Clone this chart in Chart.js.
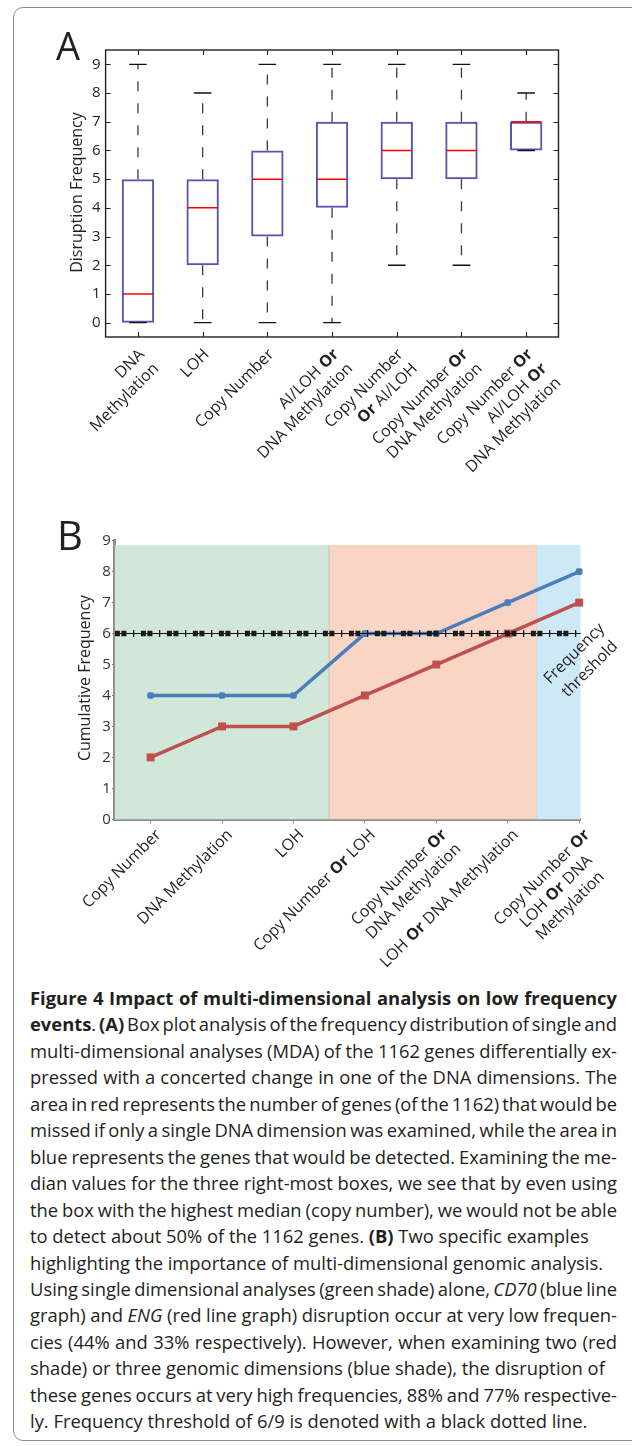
<!DOCTYPE html>
<html><head><meta charset="utf-8">
<script src="https://cdn.jsdelivr.net/npm/chart.js@4.4.1/dist/chart.umd.min.js"></script>
<style>
html,body{margin:0;padding:0;background:#fff;width:632px;height:1446px;overflow:hidden;position:relative;}
#frame{position:absolute;left:13px;top:7px;width:650px;height:1434px;border:1px solid #8c8c8c;border-radius:10px;box-sizing:border-box;}
#cA{position:absolute;left:0;top:0;}
#cB{position:absolute;left:0;top:480px;}
#cap{position:absolute;left:30px;top:985px;width:600px;font-family:'Open Sans',sans-serif;font-size:18px;line-height:26.46px;color:#231f20;}
.ln{white-space:nowrap;transform-origin:0 0;height:26.46px;}
</style></head>
<body>
<div id="frame"></div>
<canvas id="cA" width="632" height="480"></canvas>
<canvas id="cB" width="632" height="505"></canvas>
<div id="cap">
<div class="ln" data-j="1"><span><b>Figure 4 Impact of multi-dimensional analysis on low frequency</b></span></div>
<div class="ln" data-j="1"><span><b>events</b>. <b>(A)</b> Box plot analysis of the frequency distribution of single and</span></div>
<div class="ln" data-j="1"><span>multi-dimensional analyses (MDA) of the 1162 genes differentially ex-</span></div>
<div class="ln" data-j="1"><span>pressed with a concerted change in one of the DNA dimensions. The</span></div>
<div class="ln" data-j="1"><span>area in red represents the number of genes (of the 1162) that would be</span></div>
<div class="ln" data-j="1"><span>missed if only a single DNA dimension was examined, while the area in</span></div>
<div class="ln" data-j="1"><span>blue represents the genes that would be detected. Examining the me-</span></div>
<div class="ln" data-j="1"><span>dian values for the three right-most boxes, we see that by even using</span></div>
<div class="ln" data-j="1"><span>the box with the highest median (copy number), we would not be able</span></div>
<div class="ln" data-j="0"><span>to detect about 50% of the 1162 genes. <b>(B)</b> Two specific examples</span></div>
<div class="ln" data-j="0"><span>highlighting the importance of multi-dimensional genomic analysis.</span></div>
<div class="ln" data-j="1"><span>Using single dimensional analyses (green shade) alone, <i>CD70</i> (blue line</span></div>
<div class="ln" data-j="1"><span>graph) and <i>ENG</i> (red line graph) disruption occur at very low frequen-</span></div>
<div class="ln" data-j="1"><span>cies (44% and 33% respectively). However, when examining two (red</span></div>
<div class="ln" data-j="0"><span>shade) or three genomic dimensions (blue shade), the disruption of</span></div>
<div class="ln" data-j="1"><span>these genes occurs at very high frequencies, 88% and 77% respective-</span></div>
<div class="ln" data-j="0"><span>ly. Frequency threshold of 6/9 is denoted with a black dotted line.</span></div>
</div>
<script>
// ---------- Data: panel A (box plot) ----------
const categoriesA = ['DNA\nMethylation', 'LOH', 'Copy Number', 'AI/LOH **Or**\nDNA Methylation',
  'Copy Number\n**Or** AI/LOH', 'Copy Number **Or**\nDNA Methylation', 'Copy Number **Or**\nAI/LOH **Or**\nDNA Methylation'];
const minA    = [0, 0, 0, 0, 2, 2, 6];
const q1A     = [0, 2, 3, 4, 5, 5, 6];
const medianA = [1, 4, 5, 5, 6, 6, 7];
const q3A     = [5, 5, 6, 7, 7, 7, 7];
const maxA    = [9, 8, 9, 9, 9, 9, 8];
const yTicksA = [0, 1, 2, 3, 4, 5, 6, 7, 8, 9];

// ---------- Data: panel B (line chart) ----------
const categoriesB = ['Copy Number', 'DNA Methylation', 'LOH', 'Copy Number **Or** LOH',
  'Copy Number **Or**\nDNA Methylation', 'LOH **Or** DNA Methylation', 'Copy Number **Or**\nLOH **Or** DNA\nMethylation'];
const cd70Values = [4, 4, 4, 6, 6, 7, 8];
const engValues  = [2, 3, 3, 4, 5, 6, 7];
const thresholdValue = 6;
const yTicksB = [0, 1, 2, 3, 4, 5, 6, 7, 8, 9];
const shadeStops = [0.5, 3.5, 6.41, 7.02];   // single / two / three dimensions
const shadeTop = 8.86;

const FONT = "'Open Sans', 'Noto Sans', sans-serif";
const INK = '#231f20';

function parseSegs(line){
  return line.split('**').map((t,i)=>({t, b: i % 2 === 1})).filter(s => s.t.length);
}
function drawRotLabel(ctx, text, x, y, size, lh, align){
  const lines = text.split('\n').map(parseSegs);
  ctx.save();
  ctx.translate(x, y);
  ctx.rotate(-Math.PI/4);
  ctx.textBaseline = 'middle';
  ctx.textAlign = 'left';
  const widths = lines.map(segs => segs.reduce((w,s)=>{
    ctx.font = (s.b ? 'bold ' : '') + size + 'px ' + FONT;
    return w + ctx.measureText(s.t).width;
  }, 0));
  const maxW = Math.max(...widths);
  lines.forEach((segs, j) => {
    let cx = align === 'center' ? -maxW + (maxW - widths[j]) / 2 : -widths[j];
    segs.forEach(s => {
      ctx.font = (s.b ? 'bold ' : '') + size + 'px ' + FONT;
      ctx.fillText(s.t, cx, j * lh);
      cx += ctx.measureText(s.t).width;
    });
  });
  ctx.restore();
}

// ---------- Panel A ----------
const whiskerData = [];
categoriesA.forEach((c, i) => {
  whiskerData.push({x:c, y:q3A[i]}, {x:c, y:maxA[i]}, {x:c, y:null},
                   {x:c, y:q1A[i]}, {x:c, y:minA[i]}, {x:c, y:null});
});

const plugA = {
  id: 'plugA',
  afterDraw(chart){
    const {ctx, chartArea:a, scales:{x, y}} = chart;
    ctx.save();
    ctx.strokeStyle = INK;
    ctx.lineWidth = 1.4;
    ctx.strokeRect(a.left, a.top, a.right - a.left, a.bottom - a.top);
    ctx.lineWidth = 1.1;
    ctx.beginPath();
    yTicksA.forEach(v => {
      const py = Math.round(y.getPixelForValue(v)) + 0.5;
      ctx.moveTo(a.left, py); ctx.lineTo(a.left + 5, py);
      ctx.moveTo(a.right, py); ctx.lineTo(a.right - 5, py);
    });
    categoriesA.forEach((c, i) => {
      const px = Math.round(x.getPixelForValue(i)) + 0.5;
      ctx.moveTo(px, a.top); ctx.lineTo(px, a.top + 5);
      ctx.moveTo(px, a.bottom); ctx.lineTo(px, a.bottom - 5);
    });
    ctx.stroke();
    ctx.fillStyle = INK;
    categoriesA.forEach((c, i) => drawRotLabel(ctx, c, x.getPixelForValue(i) + 4, a.bottom + 15, 16, 20, 'right'));
    ctx.save();
    ctx.translate(77, (a.top + a.bottom) / 2 - 1);
    ctx.rotate(-Math.PI/2);
    ctx.font = '16px ' + FONT;
    ctx.textAlign = 'center';
    ctx.textBaseline = 'middle';
    ctx.fillText('Disruption Frequency', 0, 0);
    ctx.restore();
    ctx.font = '38px ' + FONT;
    ctx.textAlign = 'left';
    ctx.textBaseline = 'alphabetic';
    ctx.fillText('A', 56, 60);
    ctx.restore();
  }
};

new Chart(document.getElementById('cA'), {
  type: 'bar',
  data: {
    labels: categoriesA,
    datasets: [
      { type:'bar', label:'IQR', data: q1A.map((q,i)=>[q, q3A[i]]), order:4,
        backgroundColor:'rgba(0,0,0,0)', borderColor:'#5656b0', borderWidth:2, borderSkipped:false,
        barPercentage:0.5, categoryPercentage:1 },
      { type:'line', label:'Whiskers', data: whiskerData, order:3, spanGaps:false,
        borderColor:'#3a3a3a', borderWidth:1.3, borderDash:[10,12], pointRadius:0, tension:0 },
      { type:'line', label:'Max', data: maxA, order:2, showLine:false, pointStyle:'line',
        pointRadius:8.8, pointBorderColor:'#111', pointBorderWidth:1.4 },
      { type:'line', label:'Min', data: minA, order:2, showLine:false, pointStyle:'line',
        pointRadius:8.8, pointBorderColor:'#111', pointBorderWidth:1.4 },
      { type:'line', label:'Median', data: medianA, order:1, showLine:false, pointStyle:'line',
        pointRadius:15.2, pointBorderColor:'#ff0000', pointBorderWidth:1.5 }
    ]
  },
  options: {
    responsive:false, animation:false, events:[],
    layout:{padding:{left:65.6, right:73.5, top:50, bottom:143}},
    plugins:{legend:{display:false}, tooltip:{enabled:false}},
    scales:{
      x:{type:'category', offset:true, ticks:{display:false}, grid:{display:false, drawTicks:false},
         border:{display:false}, afterFit:s=>{s.height=0;}},
      y:{min:-0.5, max:9.5, afterBuildTicks:s=>{s.ticks = yTicksA.map(v=>({value:v}));},
         ticks:{padding:5, color:INK, font:{family:FONT, size:15}},
         grid:{display:false, drawTicks:false}, border:{display:false}, afterFit:s=>{s.width=40;}}
    }
  },
  plugins:[plugA]
});

// ---------- Panel B ----------
const shadeColors = ['#d0e7d9', '#f9d5c5', '#cde9f7'];
const shadeEdges = ['#d8c4a4', '#c9dbe2'];
const xMinB = shadeStops[0], xMaxB = shadeStops[shadeStops.length - 1];
const thresholdLine = [{x:xMinB, y:thresholdValue}, {x:xMaxB, y:thresholdValue}];

const plugB = {
  id: 'plugB',
  beforeDatasetsDraw(chart){
    const {ctx, chartArea:a, scales:{x, y}} = chart;
    ctx.save();
    const top = y.getPixelForValue(shadeTop), bot = y.getPixelForValue(0);
    for (let k = 0; k < shadeStops.length - 1; k++){
      const x0 = x.getPixelForValue(shadeStops[k]), x1 = x.getPixelForValue(shadeStops[k+1]);
      ctx.fillStyle = shadeColors[k];
      ctx.fillRect(x0, top, x1 - x0, bot - top);
    }
    ctx.lineWidth = 1.2;
    for (let k = 1; k < shadeStops.length - 1; k++){
      const px = x.getPixelForValue(shadeStops[k]);
      ctx.strokeStyle = shadeEdges[k-1];
      ctx.beginPath(); ctx.moveTo(px, top); ctx.lineTo(px, bot); ctx.stroke();
    }
    ctx.restore();
  },
  afterDraw(chart){
    const {ctx, chartArea:a, scales:{x, y}} = chart;
    ctx.save();
    ctx.fillStyle = INK;
    categoriesB.forEach((c, i) => drawRotLabel(ctx, c, x.getPixelForValue(i + 1) + 8, a.bottom + 13, 16, 20, i === 6 ? 'center' : 'right'));
    ctx.save();
    ctx.translate(85, (a.top + a.bottom) / 2 - 2);
    ctx.rotate(-Math.PI/2);
    ctx.font = '16px ' + FONT;
    ctx.textAlign = 'center';
    ctx.textBaseline = 'middle';
    ctx.fillText('Cumulative Frequency', 0, 0);
    ctx.restore();
    // threshold annotation
    ctx.save();
    ctx.translate(x.getPixelForValue(xMaxB) + 1.5, y.getPixelForValue(5.1));
    ctx.rotate(-Math.PI/4);
    ctx.font = '16px ' + FONT;
    ctx.textAlign = 'center';
    ctx.textBaseline = 'middle';
    ctx.fillText('Frequency', 0, -11);
    ctx.fillText('threshold', 0, 11);
    ctx.restore();
    ctx.font = '40px ' + FONT;
    ctx.textAlign = 'left';
    ctx.textBaseline = 'alphabetic';
    ctx.fillText('B', 57, 70);
    ctx.restore();
  }
};

new Chart(document.getElementById('cB'), {
  type: 'line',
  data: {
    datasets: [
      { label:'Threshold squares', data: thresholdLine, order:1, borderColor:'#1a1a1a', borderWidth:5.5,
        borderDash:[5,1.5,5,14.5], borderCapStyle:'butt', pointRadius:0, clip:false },
      { label:'Threshold bars', data: thresholdLine, order:1, borderColor:'#1a1a1a', borderWidth:7,
        borderDash:[1.3,24.7], borderDashOffset:7.9, borderCapStyle:'butt', pointRadius:0, clip:false },
      { label:'Threshold', data: thresholdLine, order:1, borderColor:'#111', borderWidth:1.1, pointRadius:0, clip:false },
      { label:'ENG', data: engValues.map((v,i)=>({x:i+1, y:v})), order:2, borderColor:'#c0504d', borderWidth:3.5,
        pointStyle:'rect', pointRadius:5.6, pointBackgroundColor:'#c0504d', pointBorderWidth:0, tension:0, clip:false },
      { label:'CD70', data: cd70Values.map((v,i)=>({x:i+1, y:v})), order:3, borderColor:'#4a7ebb', borderWidth:3.5,
        pointStyle:'rectRounded', pointRadius:3.9, pointBackgroundColor:'#4a7ebb', pointBorderWidth:0, tension:0, clip:false }
    ]
  },
  options: {
    responsive:false, animation:false, events:[],
    layout:{padding:{left:74.9, right:51.4, top:60.7, bottom:165.7}},
    plugins:{legend:{display:false}, tooltip:{enabled:false}},
    scales:{
      x:{type:'linear', min:xMinB, max:xMaxB,
         afterBuildTicks:s=>{s.ticks = categoriesB.map((c,i)=>({value:i+1}));},
         ticks:{display:false},
         grid:{display:true, drawOnChartArea:false, drawTicks:true, tickLength:4, color:'#8c8c8c'},
         border:{display:true, color:'#8c8c8c', width:3}, afterFit:s=>{s.height=0;}},
      y:{min:0, max:9, afterBuildTicks:s=>{s.ticks = yTicksB.map(v=>({value:v}));},
         ticks:{padding:1, color:'#333', font:{family:FONT, size:15}},
         grid:{display:true, drawOnChartArea:false, drawTicks:true, tickLength:3, color:'#777'},
         border:{display:true, color:'#8c8c8c', width:3}, afterFit:s=>{s.width=40;}}
    }
  },
  plugins:[plugB]
});

// ---------- caption layout ----------
function layoutCaption(){
  const W = 587;
  const rows = [...document.querySelectorAll('#cap .ln')];
  rows.forEach(r => { r.style.transform = ''; r.firstElementChild.style.wordSpacing = ''; });
  const nat = rows.map(r => r.firstElementChild.getBoundingClientRect().width);
  const natIdx = [9, 10, 14, 16], tgt = [561, 577, 571, 555];
  let s = 0; natIdx.forEach((k, j) => s += tgt[j] / nat[k]); s /= natIdx.length;
  rows.forEach((r, k) => {
    r.style.transform = 'scaleX(' + s + ')';
    if (r.dataset.j === '1'){
      const sp = (r.textContent.match(/ /g) || []).length;
      r.firstElementChild.style.wordSpacing = ((W / s - nat[k]) / sp) + 'px';
    }
  });
}
layoutCaption();
if (document.fonts && document.fonts.ready) document.fonts.ready.then(layoutCaption);
</script>
</body></html>
